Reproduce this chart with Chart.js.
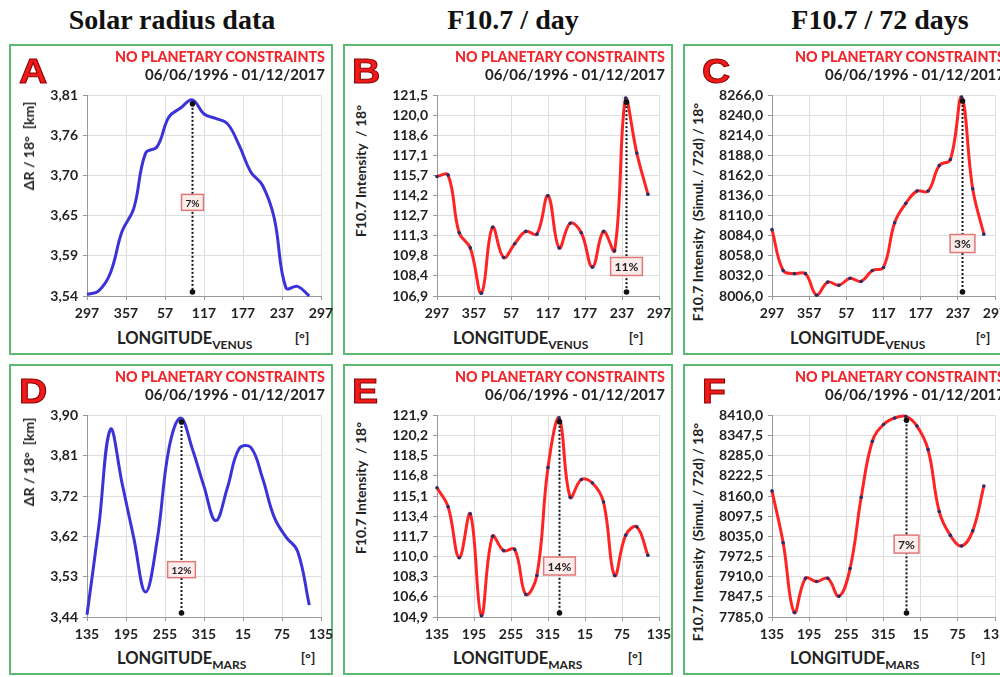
<!DOCTYPE html>
<html><head><meta charset="utf-8">
<title>Solar radius and F10.7 vs planetary longitude</title>
<script src="https://cdn.jsdelivr.net/npm/chart.js@4.4.1/dist/chart.umd.min.js"></script>
<style>
html,body{margin:0;padding:0;background:#fff;}
body{width:1000px;height:677px;overflow:hidden;position:relative;font-family:Lato,'Liberation Sans',sans-serif;}
.abs{position:absolute;white-space:nowrap;line-height:1;}
.hdr{font-family:'Liberation Serif','DejaVu Serif',serif;font-weight:bold;font-size:28px;color:#111;transform:translateX(-50%);top:6px;}
.panel{position:absolute;border:2px solid #5cbb72;box-sizing:border-box;}
.letter{font-family:'Liberation Sans',sans-serif;font-weight:bold;font-size:35px;color:#f01a1a;-webkit-text-stroke:1px #8a0000;transform-origin:0 0;transform:scaleX(1.12);}
.cons{font-weight:900;font-size:14.3px;color:#f0282d;transform:translateX(-100%);}
.date{font-weight:bold;font-size:15px;color:#222;transform:translateX(-100%);}
.ytitle{font-weight:bold;font-size:14px;color:#222;white-space:pre;transform:translate(-50%,-50%) rotate(-90deg);}
.xtitle{font-weight:bold;font-size:16.5px;color:#222;}
.xtitle sub{font-size:12px;vertical-align:-5px;line-height:1;}
.unit{font-weight:bold;font-size:14px;color:#222;transform:translateX(-50%);}
canvas{position:absolute;}
</style></head><body>
<script>
// ---------- DATA ----------
const xDegrees = [0,18,36,54,72,90,108,126,144,162,180,198,216,234,252,270,288,306,324,342];
const venusLongitudeTicks = ['297','357','57','117','177','237','297'];
const marsLongitudeTicks  = ['135','195','255','315','15','75','135'];

const radiusVenus  = [3.542,3.547,3.571,3.627,3.658,3.732,3.741,3.781,3.793,3.804,3.785,3.779,3.772,3.743,3.707,3.689,3.645,3.551,3.553,3.540];
const f107DayVenus = [115.6,115.7,111.5,110.4,107.1,111.9,109.7,110.7,111.6,111.4,114.2,110.4,112.2,111.5,109.0,111.6,110.2,121.3,117.3,114.3];
const f107d72Venus = [8092,8039,8035,8035,8007,8024,8020,8029,8025,8039,8043,8101,8126,8142,8142,8175,8183,8264,8145,8086];
const radiusMars   = [3.445,3.645,3.868,3.745,3.620,3.497,3.616,3.824,3.894,3.824,3.738,3.660,3.735,3.824,3.827,3.757,3.668,3.623,3.590,3.467];
const f107DayMars  = [115.8,114.2,109.9,113.6,105.0,111.7,110.5,110.6,106.8,108.4,117.5,121.7,115.0,116.5,116.2,114.6,108.4,111.8,112.5,110.1];
const f107d72Mars  = [8176,8015,7799,7905,7895,7905,7849,7935,8156,8330,8382,8402,8407,8377,8304,8112,8038,8005,8052,8191];

const yTicksA = ['3,54','3,59','3,65','3,70','3,76','3,81'];
const yTicksB = ['106,9','108,4','109,8','111,3','112,7','114,2','115,7','117,1','118,6','120,0','121,5'];
const yTicksC = ['8006,0','8032,0','8058,0','8084,0','8110,0','8136,0','8162,0','8188,0','8214,0','8240,0','8266,0'];
const yTicksD = ['3,44','3,53','3,62','3,72','3,81','3,90'];
const yTicksE = ['104,9','106,6','108,3','110,0','111,7','113,4','115,1','116,8','118,5','120,2','121,9'];
const yTicksF = ['7785,0','7847,5','7910,0','7972,5','8035,0','8097,5','8160,0','8222,5','8285,0','8347,5','8410,0'];

const peakIndex      = [9,17,17,8,11,12];
const peakLabels     = ['7%','11%','3%','12%','14%','7%'];
const peakLabelLevel = [3.666,109.05,8074,3.548,109.2,8011];

const panelLetters  = ['A','B','C','D','E','F'];
const columnHeaders = ['Solar radius data','F10.7 / day','F10.7 / 72 days'];
const yTitles       = ['ΔR / 18°  [km]','F10.7 Intensity  / 18°','F10.7 Intensity  (Simul. / 72d) / 18°'];
const planetNames   = ['VENUS','MARS'];
const constraintText = 'NO PLANETARY CONSTRAINTS';
const dateRange      = '06/06/1996 - 01/12/2017';

// ---------- LAYOUT ----------
const colBox   = [[9,324],[343,330],[683,330]];
const rowTop   = [44,364];
const boxH     = 311;
const colPlot  = [[86.7,320.7],[436.7,658.7],[772.3,995]];
const rowPlot  = [[92,296],[412,617]];
const hdrX     = [172,513,880];
const letterX  = [19,352,702];
const yTitleX  = [29,361,698];
const yTitleY  = [[146,171,212],[462,488,532]];
const xTitleX  = [117,453,790];
const unitX    = [[302,636,983],[308,635,978]];
const boxFont  = [10,12,12,10,12,12];

const seriesByPanel = [radiusVenus,f107DayVenus,f107d72Venus,radiusMars,f107DayMars,f107d72Mars];
const yTicksByPanel = [yTicksA,yTicksB,yTicksC,yTicksD,yTicksE,yTicksF];

function el(cls, txt, x, y, html){
  const d=document.createElement('div'); d.className='abs '+cls;
  if(html) d.innerHTML=txt; else d.textContent=txt;
  d.style.left=x+'px'; d.style.top=y+'px'; document.body.appendChild(d); return d;
}
const num = s => parseFloat(s.replace(',','.'));

const peakMarker = {
  id:'peakMarker',
  afterDatasetsDraw(chart, args, o){
    const {ctx, chartArea, scales:{x,y}} = chart;
    const px = Math.round(x.getPixelForValue(xDegrees[o.idx]))+0.5;
    const py = y.getPixelForValue(o.values[o.idx]);
    const by = chartArea.bottom;
    ctx.save();
    ctx.strokeStyle='#111'; ctx.lineWidth=2; ctx.setLineDash([2,2]);
    ctx.beginPath(); ctx.moveTo(px,py+4); ctx.lineTo(px,by-4); ctx.stroke();
    ctx.setLineDash([]); ctx.fillStyle='#111';
    [py+4, by-4].forEach(yy=>{ctx.beginPath();ctx.arc(px,yy,2.8,0,Math.PI*2);ctx.fill();});
    const ly = y.getPixelForValue(o.level);
    ctx.font = `bold ${o.fs}px Lato`;
    const tw = ctx.measureText(o.label).width;
    const w = tw+8, h = o.fs+6;
    ctx.fillStyle='#fdecec'; ctx.fillRect(px-w/2, ly-h/2, w, h);
    ctx.strokeStyle='#e07878'; ctx.lineWidth=1.5; ctx.strokeRect(px-w/2, ly-h/2, w, h);
    ctx.fillStyle='#222'; ctx.textAlign='center'; ctx.textBaseline='middle';
    ctx.fillText(o.label, px, ly+1);
    ctx.restore();
  }
};

columnHeaders.forEach((t,c)=>el('hdr',t,hdrX[c],6));

for(let p=0;p<6;p++){
  const r = Math.floor(p/3), c = p%3;
  const [bx,bw] = colBox[c], by = rowTop[r];
  const pan=document.createElement('div'); pan.className='panel';
  Object.assign(pan.style,{left:bx+'px',top:by+'px',width:bw+'px',height:boxH+'px'});
  document.body.appendChild(pan);

  const [pl,pr] = colPlot[c], [pt,pb] = rowPlot[r];
  const yW=62, padT=10, padR=18, xH=30;
  const cw = Math.round(pr-pl)+yW+padR, chh = Math.round(pb-pt)+padT+xH;
  const cv=document.createElement('canvas');
  cv.width=cw; cv.height=chh;
  cv.style.left=(pl-yW)+'px'; cv.style.top=(pt-padT)+'px';
  cv.style.width=cw+'px'; cv.style.height=chh+'px';
  document.body.appendChild(cv);

  const ticks = yTicksByPanel[p];
  const xt = r===0 ? venusLongitudeTicks : marsLongitudeTicks;
  const blue = c===0;
  const data = seriesByPanel[p];
  const tickFont = {family:'Lato', weight:'bold', size:14};

  new Chart(cv,{
    type:'line',
    data:{datasets:[{
      data: xDegrees.map((d,i)=>({x:d,y:data[i]})),
      borderColor: blue ? '#3a34d8' : '#ff2424',
      borderWidth: 3,
      tension: 0.4,
      pointRadius: blue ? 0 : 1.8,
      pointBackgroundColor:'#26306a',
      pointBorderWidth:0,
      clip: 6
    }]},
    options:{
      responsive:false, animation:false, devicePixelRatio:1,
      layout:{autoPadding:false, padding:{left:0,top:padT,right:padR,bottom:0}},
      plugins:{legend:{display:false}, tooltip:{enabled:false},
        peakMarker:{idx:peakIndex[p], values:data, level:peakLabelLevel[p], label:peakLabels[p], fs:boxFont[p]}},
      scales:{
        x:{type:'linear', min:0, max:360,
           ticks:{stepSize:60, autoSkip:false, maxRotation:0, font:tickFont, color:'#222', padding:5,
                  callback:(v,i)=>xt[i]},
           grid:{color:'#dedede', tickLength:4, tickColor:'#999'},
           border:{color:'#999', width:1},
           afterFit:s=>{s.height=xH;}},
        y:{type:'linear', min:num(ticks[0]), max:num(ticks[ticks.length-1]),
           ticks:{count:ticks.length, autoSkip:false, font:tickFont, color:'#222', padding:5,
                  callback:(v,i)=>ticks[i]},
           grid:{color:'#dedede', tickLength:4, tickColor:'#999'},
           border:{color:'#999', width:1},
           afterFit:s=>{s.width=yW;}}
      }
    },
    plugins:[peakMarker]
  });

  el('letter', panelLetters[p], letterX[c], by+9);
  el('cons', constraintText, bx+bw-8, by+6);
  el('date', dateRange, bx+bw-8, by+23);
  el('ytitle', yTitles[c], yTitleX[c], yTitleY[r][c]);
  el('xtitle', 'LONGITUDE<sub>'+planetNames[r]+'</sub>', xTitleX[c], by+286, true);
  el('unit', '[°]', unitX[r][c], by+287);
}
</script>
</body></html>
